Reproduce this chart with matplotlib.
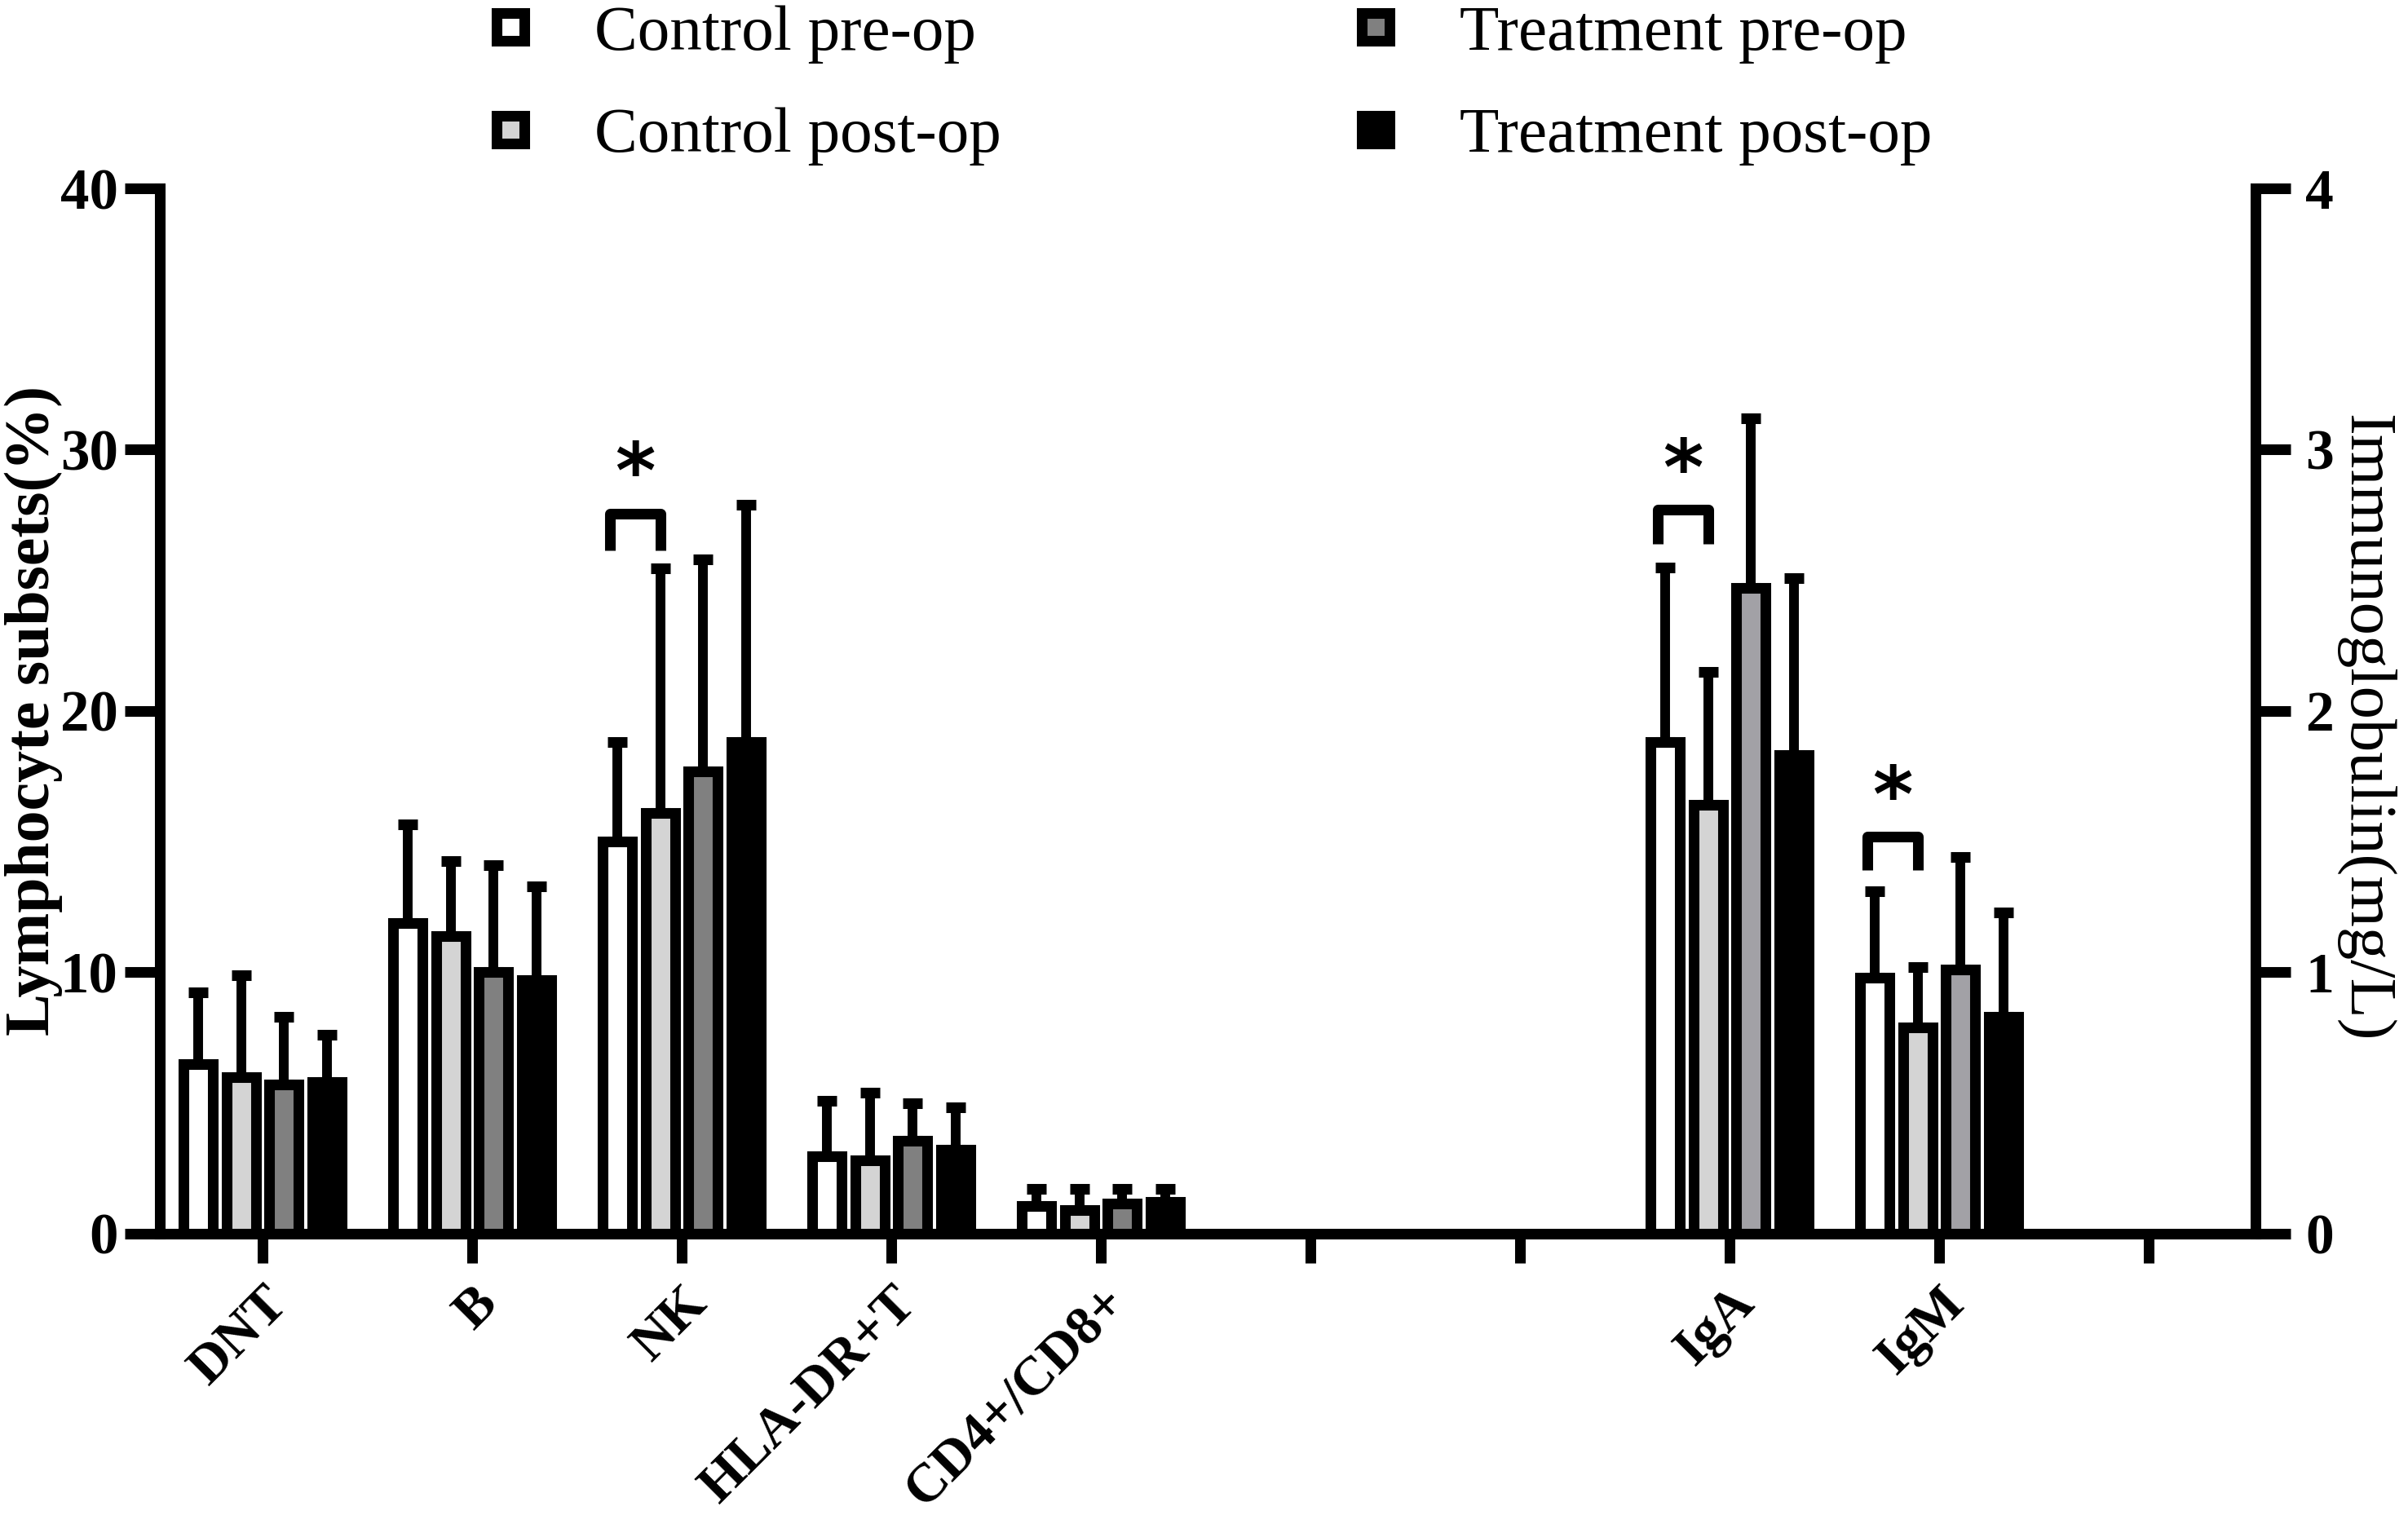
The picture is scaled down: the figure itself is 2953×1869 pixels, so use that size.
import numpy as np
import matplotlib.pyplot as plt
from matplotlib.lines import Line2D

plt.rcParams['font.family'] = 'Liberation Serif'

groups = ['Control pre-op', 'Control post-op', 'Treatment pre-op', 'Treatment post-op']
tick_labels = ['DNT', 'B', 'NK', 'HLA-DR+T', 'CD4+/CD8+', '', '', 'IgA', 'IgM', '']
lym_x = [0, 1, 2, 3, 4]
ig_x = [7, 8]

# Lymphocyte subsets (%) -- rows are the four groups
lym_mean = [
    [6.5, 11.9, 15.0, 2.95, 1.05],
    [6.0, 11.4, 16.1, 2.8, 0.9],
    [5.7, 10.0, 17.7, 3.55, 1.15],
    [5.8, 9.7, 18.8, 3.2, 1.2],
]
lym_sd = [
    [2.75, 3.75, 3.8, 2.15, 0.65],
    [3.9, 2.85, 9.35, 2.6, 0.8],
    [2.6, 4.1, 8.1, 1.45, 0.55],
    [1.8, 3.6, 9.1, 1.65, 0.5],
]
# Immunoglobulin (mg/L)
ig_mean = [[1.88, 0.98], [1.64, 0.79], [2.47, 1.01], [1.83, 0.83]]
ig_sd = [[0.67, 0.33], [0.51, 0.23], [0.65, 0.43], [0.68, 0.40]]

# significance brackets: (category, bracket top, leg bottom, star y)
lym_sig = [(2, 27.55, 26.15, 29.0)]
ig_sig = [(7, 2.77, 2.64, 2.91), (8, 1.52, 1.39, 1.66)]

lym_colors = ['#ffffff', '#d4d4d4', '#808080', '#000000']
ig_colors = ['#ffffff', '#d4d4d4', '#a2a1a6', '#000000']

LW = 4.7
offsets = [-0.306, -0.102, 0.102, 0.306]
width = 0.14

fig = plt.figure(figsize=(2953 / 200, 1869 / 200), dpi=200)
ax = fig.add_axes([0.0664, 0.1905, 0.8703, 0.6859])
ax2 = ax.twinx()


def draw(a, xs, means, sds, colors):
    xs = np.array(xs, dtype=float)
    for i in range(4):
        a.bar(xs + offsets[i], means[i], width=width, color=colors[i],
              edgecolor='black', linewidth=LW, zorder=3)
        a.errorbar(xs + offsets[i], means[i], yerr=[np.zeros(len(xs)), sds[i]],
                   fmt='none', ecolor='black', elinewidth=4.3, capsize=4.3,
                   capthick=LW, zorder=2)


def brackets(a, sig):
    for cat, ytop, ybot, ystar in sig:
        x1 = cat + offsets[0] - 0.035
        x2 = cat + offsets[1]
        a.plot([x1, x1, x2, x2], [ybot, ytop, ytop, ybot], color='black',
               lw=LW, solid_joinstyle='round', solid_capstyle='butt', zorder=4)
        a.text((x1 + x2) / 2, ystar, '*', ha='center', va='center',
               fontsize=34, fontweight='bold', family='DejaVu Sans')


draw(ax, lym_x, lym_mean, lym_sd, lym_colors)
draw(ax2, ig_x, ig_mean, ig_sd, ig_colors)
brackets(ax, lym_sig)
brackets(ax2, ig_sig)

ax.set_xlim(-0.49, 9.51)
ax.set_ylim(0, 40)
ax2.set_ylim(0, 4)

ax.set_xticks(range(len(tick_labels)))
ax.set_xticklabels(tick_labels, rotation=45, ha='right', va='top',
                   rotation_mode='anchor', fontweight='bold', fontsize=24)
ax.set_yticks([0, 10, 20, 30, 40])
ax.set_yticklabels(['0', '10', '20', '30', '40'], fontweight='bold', fontsize=25.5)
ax2.set_yticks([0, 1, 2, 3, 4])
ax2.set_yticklabels(['0', '1', '2', '3', '4'], fontweight='bold', fontsize=25)

ax.tick_params(axis='y', length=15.5, width=LW, pad=3)
ax.tick_params(axis='x', length=13, width=LW, pad=6.5)
ax2.tick_params(axis='y', length=15.5, width=LW, pad=6.5)

for s in ['top', 'right']:
    ax.spines[s].set_visible(False)
for s in ['top', 'left', 'bottom']:
    ax2.spines[s].set_visible(False)
ax.spines['left'].set_linewidth(LW)
ax.spines['bottom'].set_linewidth(LW)
ax2.spines['right'].set_linewidth(LW)

ax.text(-0.0603, 0.5, 'Lymphocyte subsets(%)', transform=ax.transAxes, rotation=90,
        ha='center', va='center', fontsize=28, fontweight='bold')
ax.text(1.0444, 0.484, 'Immunoglobulin(mg/L)', transform=ax.transAxes, rotation=270,
        ha='center', va='baseline', rotation_mode='anchor', fontsize=29)

handles = [Line2D([], [], marker='s', ls='none', ms=11.9, mew=LW, mec='black', mfc=c)
           for c in lym_colors]
fig.legend(handles, groups, loc='upper left', bbox_to_anchor=(0.204, 0.997), ncol=2,
           frameon=False, fontsize=28.5, handlelength=0.6, handletextpad=1.0,
           columnspacing=5.5, labelspacing=0.67, borderpad=0, borderaxespad=0)

fig.savefig('out.png', dpi=200)
